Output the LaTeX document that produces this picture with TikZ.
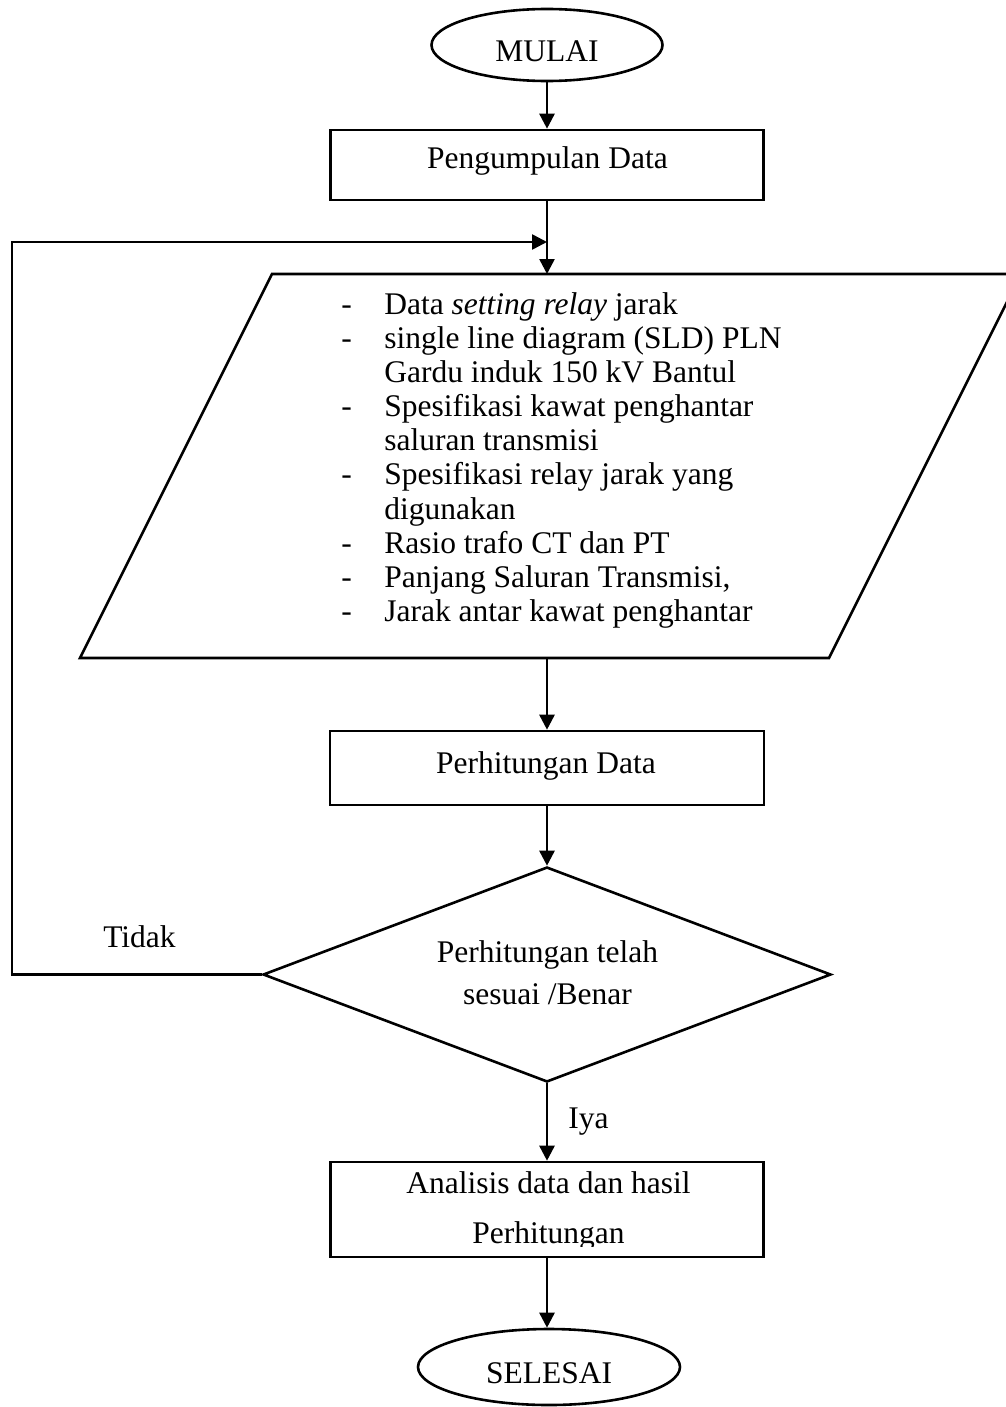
\documentclass[tikz,border=0pt]{standalone}
\usepackage{fontspec}
\setmainfont{Liberation Serif}
\usetikzlibrary{arrows.meta,shapes.geometric}
\begin{document}
\begin{tikzpicture}[x=1pt,y=-1pt,line width=2.6pt,
  every node/.style={font=\fontsize{31.5}{38.4}\selectfont},
  txt/.style={inner sep=0pt,anchor=base},
  box/.style={draw,rectangle,inner sep=0pt},
  term/.style={draw,ellipse,inner sep=0pt},
  arr/.style={-{Triangle[length=15pt,width=15pt]}}]
\useasboundingbox (0,0) rectangle (1005,1407);

% start
\node[term,minimum width=231,minimum height=72] (mulai) at (547,45) {};
\node[txt] (mulai-t) at (547,62) {MULAI};

% data collection
\node[box,minimum width=433,minimum height=70] (kumpul) at (547,165) {};
\node[txt] (kumpul-t) at (547.5,168) {Pengumpulan Data};

% input parallelogram
\coordinate (pTL) at (272,274);
\coordinate (pTR) at (1021,274);
\coordinate (pBR) at (829,658);
\coordinate (pBL) at (80,658);
\coordinate (ptop) at (547,274);
\coordinate (pbot) at (547,658);
\draw (pTL) -- (pTR) -- (pBR) -- (pBL) -- cycle;
\node[inner sep=0pt,anchor=north west,font=\fontsize{31.5}{34.1}\selectfont] (data) at (340,289.3) {%
\begin{tabular}{@{}p{43pt}@{}l@{}}
- & Data \textit{setting relay} jarak\\
- & single line diagram (SLD) PLN\\
  & Gardu induk 150 kV Bantul\\
- & Spesifikasi kawat penghantar\\
  & saluran transmisi\\
- & Spesifikasi relay jarak yang\\
  & digunakan\\
- & Rasio trafo CT dan PT\\
- & Panjang Saluran Transmisi,\\
- & Jarak antar kawat penghantar
\end{tabular}};

% calculation
\node[box,minimum width=434,minimum height=74] (hitung) at (547,768) {};
\node[txt] (hitung-t) at (546,773) {Perhitungan Data};

% decision
\node[draw,diamond,inner sep=0pt,minimum width=568,minimum height=215] (dec) at (547,974.5) {};
\node[txt] (dec-t1) at (547.5,962) {Perhitungan telah};
\node[txt] (dec-t2) at (547.5,1004) {sesuai /Benar};

% analysis
\node[box,minimum width=433,minimum height=95] (anal) at (547,1209.5) {};
\begin{scope}
  \clip (300,1150) rectangle (800,1246);
  \node[txt] (anal-t1) at (548.5,1193) {Analisis data dan hasil};
  \node[txt] (anal-t2) at (548.5,1243) {Perhitungan};
\end{scope}

% end
\node[term,minimum width=262,minimum height=76] (selesai) at (549,1367) {};
\node[txt] (selesai-t) at (549,1383) {SELESAI};

% loop back
\coordinate (lb) at (12,974.5);
\coordinate (lt) at (12,242);
\coordinate (join) at (547,242);

% connectors
\draw[arr] (mulai.south) -- (mulai.south |- kumpul.north);
\draw[arr] (kumpul.south) -- (ptop);
\draw[arr] (dec.west) -- (lb) -- (lt) -- (join);
\draw[arr] (pbot) -- (pbot |- hitung.north);
\draw[arr] (hitung.south) -- (hitung.south |- dec.north);
\draw[arr] (dec.south) -- (dec.south |- anal.north);
\draw[arr] (anal.south) -- (anal.south |- selesai.north);

% labels
\node[txt,anchor=base west] (tidak) at (102,947) {Tidak};
\node[txt,anchor=base west] (iya) at (567,1128) {Iya};
\end{tikzpicture}
\end{document}
